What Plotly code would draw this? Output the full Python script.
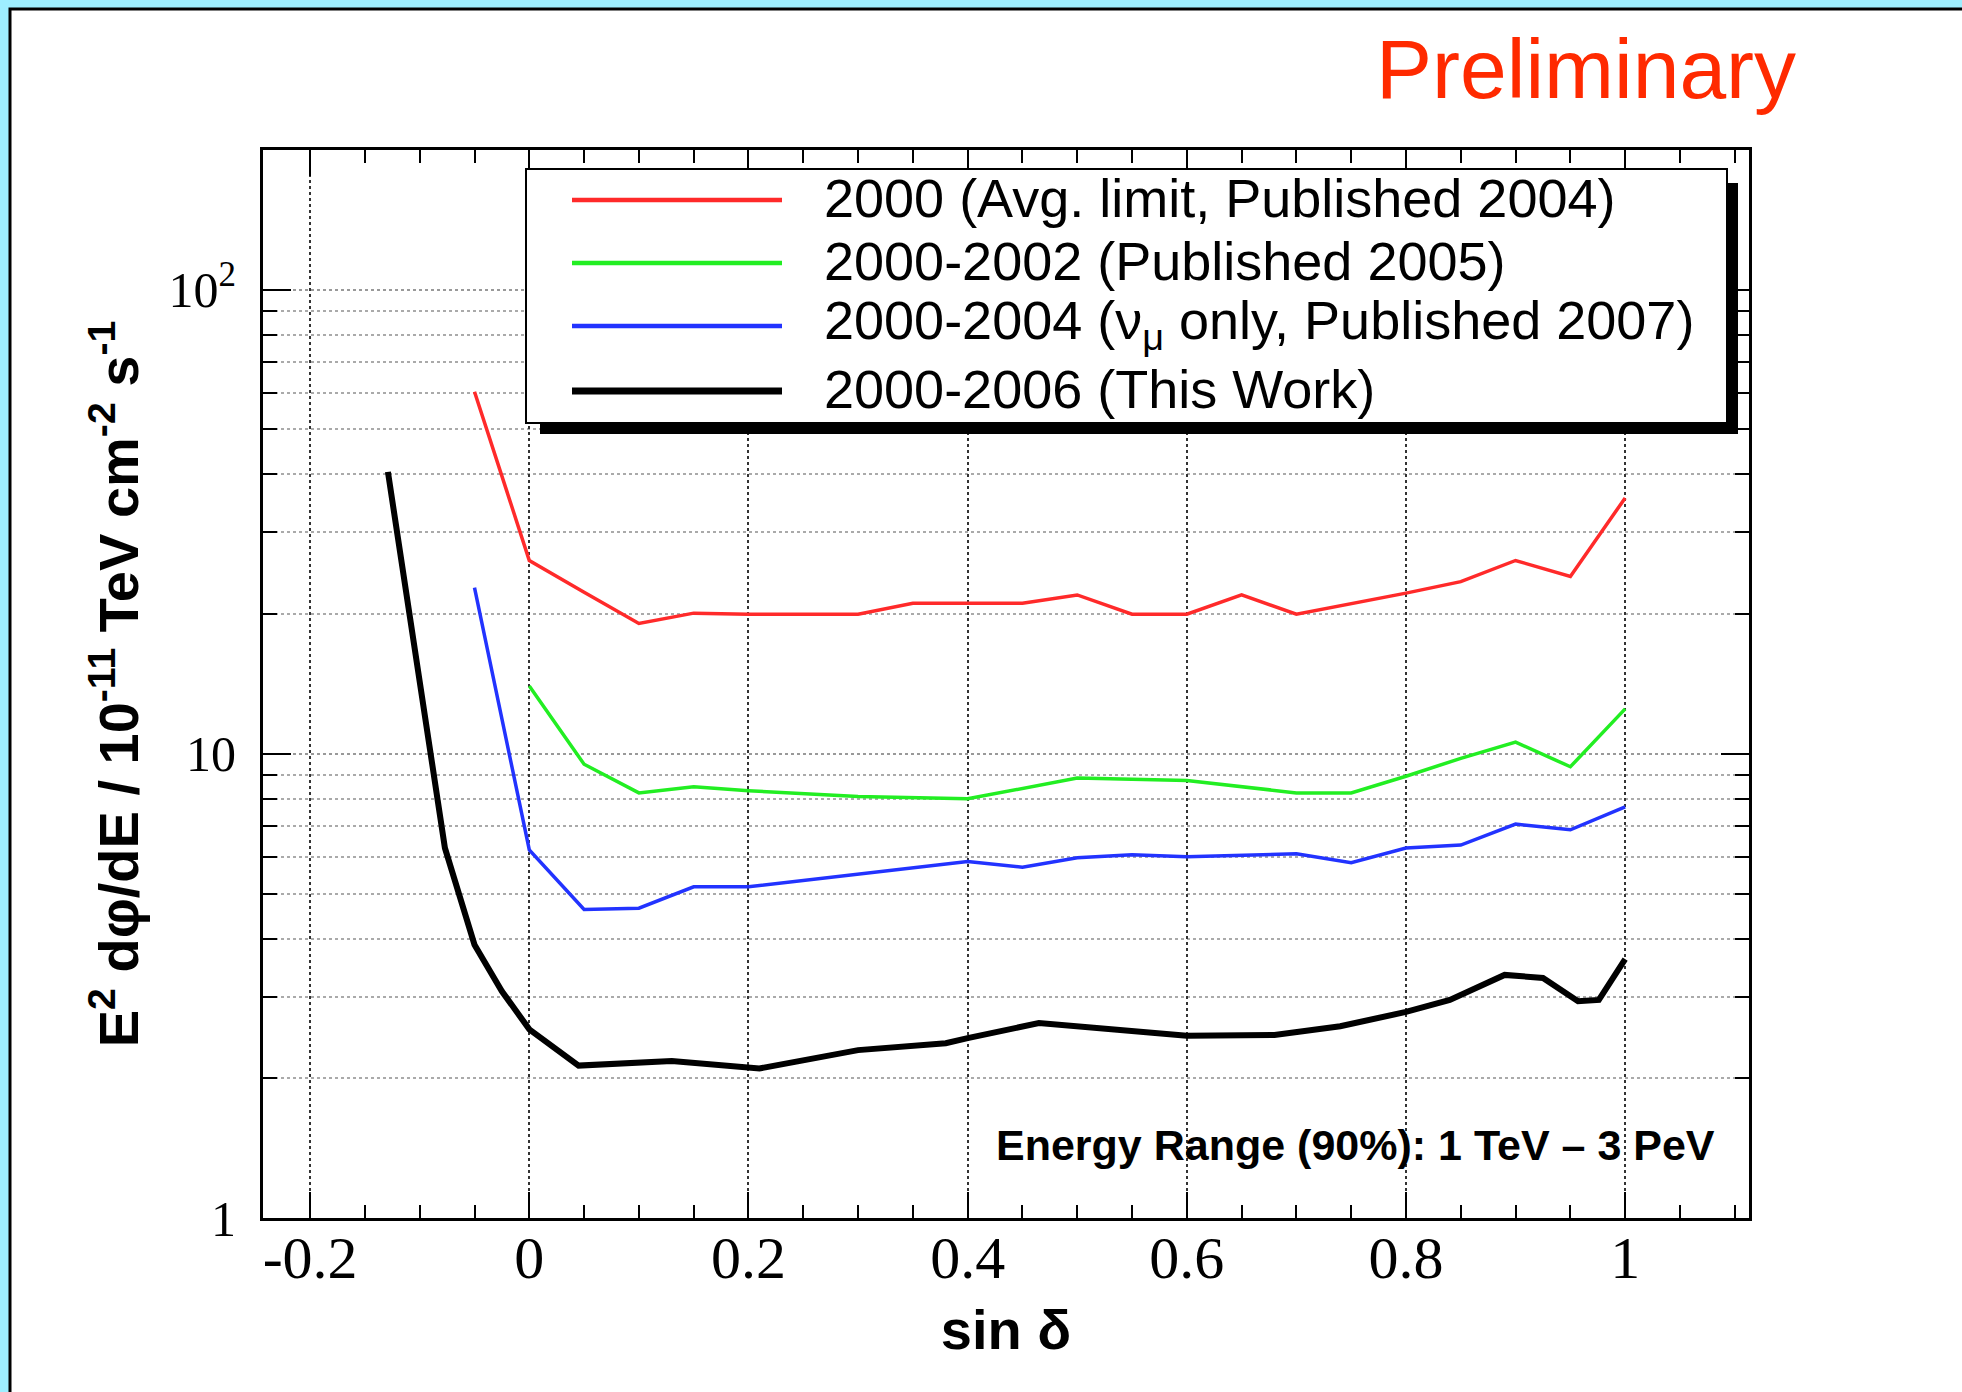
import math
import plotly.graph_objects as go

# ---------------- data ----------------
SERIES_NAMES = [
    "2000 (Avg. limit, Published 2004)",
    "2000-2002 (Published 2005)",
    "2000-2004 (ν<sub>μ</sub> only, Published 2007)",
    "2000-2006 (This Work)",
]

red_x = [-0.05, 0.0, 0.05, 0.1, 0.15, 0.2, 0.3, 0.35, 0.45, 0.5, 0.55, 0.6, 0.65, 0.7, 0.8, 0.85, 0.9, 0.95, 1.0]
red_y = [60.3, 26.1, 22.3, 19.1, 20.1, 20.0, 20.0, 21.1, 21.1, 22.0, 20.0, 20.0, 22.0, 20.0, 22.2, 23.5, 26.1, 24.1, 35.6]

green_x = [0.0, 0.05, 0.1, 0.15, 0.2, 0.3, 0.4, 0.5, 0.6, 0.7, 0.75, 0.8, 0.85, 0.9, 0.95, 1.0]
green_y = [14.0, 9.5, 8.24, 8.49, 8.33, 8.09, 8.0, 8.87, 8.76, 8.24, 8.24, 8.95, 9.78, 10.6, 9.38, 12.5]

blue_x = [-0.05, 0.0, 0.05, 0.1, 0.15, 0.2, 0.4, 0.45, 0.5, 0.55, 0.6, 0.7, 0.75, 0.8, 0.85, 0.9, 0.95, 1.0]
blue_y = [22.8, 6.21, 4.62, 4.65, 5.17, 5.17, 5.86, 5.7, 5.97, 6.06, 6.0, 6.09, 5.83, 6.27, 6.36, 7.06, 6.86, 7.69]

black_x = [-0.129, -0.077, -0.05, -0.025, 0.0, 0.045, 0.13, 0.21, 0.3, 0.38, 0.4, 0.465, 0.6, 0.68, 0.74, 0.8, 0.84, 0.89, 0.925, 0.957, 0.976, 1.0]
black_y = [40.5, 6.27, 3.88, 3.08, 2.55, 2.13, 2.18, 2.10, 2.30, 2.38, 2.44, 2.63, 2.47, 2.48, 2.59, 2.78, 2.95, 3.34, 3.29, 2.93, 2.95, 3.61]

x_tick_vals = [-0.2, 0.0, 0.2, 0.4, 0.6, 0.8, 1.0]
x_tick_text = ["-0.2", "0", "0.2", "0.4", "0.6", "0.8", "1"]
y_tick_vals = [1, 10, 100]
y_tick_text = ["1", "10", "10<sup>2</sup>"]

# ---------------- styling ----------------
W, H = 1962, 1392
L, R, T, B = 263, 1749, 150, 1218   # plot frame in pixels


def fx(p):
    return (p - L) / (R - L)


def fy(p):
    return (B - p) / (B - T)


COLORS = ["#ff2a2a", "#22ee22", "#2233ff", "#000000"]
WIDTHS = [3.5, 3.5, 3.5, 6]
xs = [red_x, green_x, blue_x, black_x]
ys = [red_y, green_y, blue_y, black_y]

fig = go.Figure()
for name, x, y, c, w in zip(SERIES_NAMES, xs, ys, COLORS, WIDTHS):
    fig.add_trace(go.Scatter(x=x, y=y, mode="lines", name=name,
                             line=dict(color=c, width=w), showlegend=False,
                             hoverinfo="skip"))

shapes = []
# white slide panel with black border (top/left visible)
shapes.append(dict(type="rect", xref="paper", yref="paper",
                   x0=fx(10), x1=fx(2000), y0=fy(1430), y1=fy(9),
                   fillcolor="white", line=dict(color="black", width=3), layer="below"))

# legend box with ROOT-style shadow
LG_L, LG_R, LG_T, LG_B = 526, 1727, 169, 423
SH = 11
shapes.append(dict(type="rect", xref="paper", yref="paper",
                   x0=fx(LG_R), x1=fx(LG_R + SH), y0=fy(LG_B + SH), y1=fy(LG_T + 14),
                   fillcolor="black", line=dict(width=0), layer="above"))
shapes.append(dict(type="rect", xref="paper", yref="paper",
                   x0=fx(LG_L + 14), x1=fx(LG_R + SH), y0=fy(LG_B + SH), y1=fy(LG_B),
                   fillcolor="black", line=dict(width=0), layer="above"))
shapes.append(dict(type="rect", xref="paper", yref="paper",
                   x0=fx(LG_L), x1=fx(LG_R), y0=fy(LG_B), y1=fy(LG_T),
                   fillcolor="white", line=dict(color="black", width=2), layer="above"))

ROW_Y = [200, 263, 326, 391]
annotations = []
for i, (name, c, w) in enumerate(zip(SERIES_NAMES, COLORS, WIDTHS)):
    shapes.append(dict(type="line", xref="paper", yref="paper",
                       x0=fx(572), x1=fx(782), y0=fy(ROW_Y[i]), y1=fy(ROW_Y[i]),
                       line=dict(color=c, width=w + 1), layer="above"))
    annotations.append(dict(xref="paper", yref="paper", x=fx(822), y=fy(ROW_Y[i] - 2),
                            xanchor="left", yanchor="middle", showarrow=False, text=name,
                            font=dict(family="Liberation Sans, Arial, sans-serif", size=54, color="black")))

annotations.append(dict(xref="paper", yref="paper", x=fx(1586), y=fy(69),
                        xanchor="center", yanchor="middle", showarrow=False, text="Preliminary",
                        font=dict(family="Liberation Sans, Arial, sans-serif", size=84, color="#ff2a00")))
annotations.append(dict(xref="paper", yref="paper", x=fx(1717), y=fy(1145),
                        xanchor="right", yanchor="middle", showarrow=False,
                        text="<b>Energy Range (90%): 1 TeV – 3 PeV</b>",
                        font=dict(family="Liberation Sans, Arial, sans-serif", size=43, color="black")))

fig.update_layout(
    width=W, height=H,
    margin=dict(l=L, r=W - R, t=T, b=H - B, autoexpand=False),
    paper_bgcolor="#9eeeff",
    plot_bgcolor="white",
    shapes=shapes,
    annotations=annotations,
    showlegend=False,
)

fig.update_xaxes(
    range=[-0.243, 1.113],
    tickmode="array", tickvals=x_tick_vals, ticktext=x_tick_text,
    ticks="inside", ticklen=26, tickwidth=2, tickcolor="black",
    showline=True, linewidth=3, linecolor="black", mirror="allticks",
    showgrid=True, gridcolor="#333333", gridwidth=2, griddash="dot",
    zeroline=False,
    minor=dict(dtick=0.05, tick0=0, ticks="inside", ticklen=13, tickwidth=2,
               tickcolor="black", showgrid=False),
    tickfont=dict(family="Liberation Serif, Times New Roman, serif", size=60, color="black"),
    ticklabelstandoff=-15,
    title=dict(text="<b>sin δ</b>", standoff=20,
               font=dict(family="Liberation Sans, Arial, sans-serif", size=56, color="black")),
    automargin=False,
)

minor_y = [m * 10 ** e for e in (0, 1, 2) for m in range(2, 10)]
fig.update_yaxes(
    type="log", range=[0, math.log10(200)],
    tickmode="array", tickvals=y_tick_vals, ticktext=y_tick_text,
    ticks="inside", ticklen=28, tickwidth=2, tickcolor="black",
    showline=True, linewidth=3, linecolor="black", mirror="allticks",
    showgrid=True, gridcolor="#999999", gridwidth=2, griddash="dot",
    zeroline=False,
    minor=dict(tickmode="array", tickvals=minor_y, ticks="inside", ticklen=14, tickwidth=2,
               tickcolor="black", showgrid=True, gridcolor="#aaaaaa", gridwidth=2, griddash="dot"),
    tickfont=dict(family="Liberation Serif, Times New Roman, serif", size=50, color="black"),
    ticklabelstandoff=14,
    title=dict(text="<b>E<sup>2</sup> dφ/dE / 10<sup>-11</sup> TeV cm<sup>-2</sup> s<sup>-1</sup></b>",
               standoff=12,
               font=dict(family="Liberation Sans, Arial, sans-serif", size=56, color="black")),
    automargin=False,
)

fig.write_html("out.html")
